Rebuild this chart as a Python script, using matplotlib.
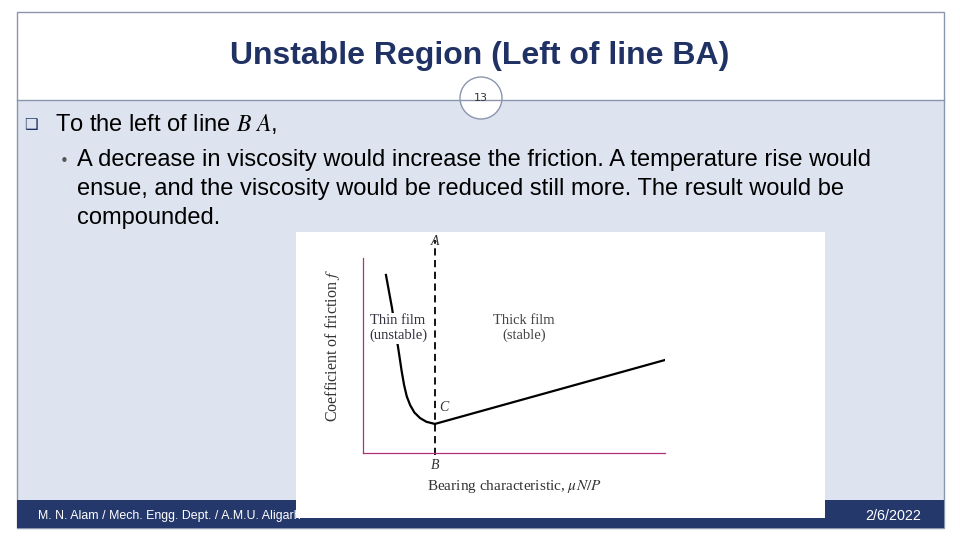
import matplotlib.pyplot as plt
from matplotlib.patches import Rectangle, Circle

plt.rcParams['mathtext.fontset'] = 'stix'
W, H = 960, 540

# curve (bearing characteristic vs coefficient of friction)
thin_x = [0.76, 0.96, 1.19, 1.28, 1.36, 1.45, 1.56, 1.70, 1.89, 2.10, 2.38]
thin_f = [9.13, 7.44, 5.13, 4.20, 3.49, 2.90, 2.46, 2.08, 1.79, 1.60, 1.49]
thick_x = [2.38, 10.0]
thick_f = [1.49, 4.77]
x_ba = 2.38

title = "Unstable Region (Left of line BA)"
bullet1 = "To the left of line $\\mathit{B\\ A}$,"
bullet2 = ("A decrease in viscosity would increase the friction. A temperature rise would\n"
           "ensue, and the viscosity would be reduced still more. The result would be\n"
           "compounded.")
footer_left = "M. N. Alam / Mech. Engg. Dept. / A.M.U. Aligarh"
footer_right = "2/6/2022"


def px(x0, y0, w, h):
    # pixel box (top-left origin) -> figure fraction
    return [x0 / W, 1 - (y0 + h) / H, w / W, h / H]


fig = plt.figure(figsize=(9.6, 5.4), dpi=100)
bg = fig.add_axes([0, 0, 1, 1])
bg.set_xlim(0, W)
bg.set_ylim(H, 0)
bg.axis('off')

bg.add_patch(Rectangle((17, 100), 927, 428, facecolor='#dde3ef', edgecolor='none'))
bg.add_patch(Rectangle((17, 12), 927, 516, facecolor='none', edgecolor='#8a96ad', lw=1))
bg.plot([17, 944], [100, 100], color='#8a96ad', lw=1)
bg.add_patch(Rectangle((17, 500), 927, 28, facecolor='#24386b', edgecolor='none'))
bg.add_patch(Circle((481, 98), 21, facecolor='white', edgecolor='#8a96ad', lw=1))

bg.text(480, 56, title, ha='center', va='center', fontsize=23, fontweight='bold',
        color='#1f3263', family='Liberation Sans')
bg.text(481, 98, "13", ha='center', va='center', fontsize=8, color='#333333',
        family='DejaVu Sans')
bg.text(31, 124, "❑", ha='center', va='center', fontsize=11, color='#1f3263',
        family='DejaVu Sans')
bg.text(55, 124, bullet1, ha='left', va='center', fontsize=17, family='Liberation Sans')
bg.text(60, 162, "•", ha='left', va='center', fontsize=11, color='#555555')
bg.text(77, 149, bullet2, ha='left', va='top', fontsize=17, family='Liberation Sans',
        linespacing=1.4)
bg.text(38, 516, footer_left, ha='left', va='center', fontsize=8.9, color='white',
        family='Liberation Sans')
bg.text(921, 516, footer_right, ha='right', va='center', fontsize=10.4, color='white',
        family='Liberation Sans')

bg.add_patch(Rectangle((296, 232), 529, 286, facecolor='white', edgecolor='none'))

ax = fig.add_axes(px(363, 258, 302, 195))
ax.set_xlim(0, 10)
ax.set_ylim(0, 10)
ax.set_xticks([])
ax.set_yticks([])
for s in ['top', 'right']:
    ax.spines[s].set_visible(False)
for s in ['left', 'bottom']:
    ax.spines[s].set_color('#b0307a')
    ax.spines[s].set_linewidth(0.9)
ax.set_facecolor('white')
ax.plot(thin_x, thin_f, color='black', lw=1.6, zorder=2)
ax.plot(thick_x, thick_f, color='black', lw=1.6)
ax.plot([x_ba, x_ba], [-0.1, 10.9], color='black', lw=1.3, ls=(0, (4, 2.5)), clip_on=False)

serif = 'Liberation Serif'
ax.text(x_ba, 10.5, "A", ha='center', va='bottom', fontsize=10, style='italic', family=serif,
        color='#333333')
ax.text(x_ba, -0.3, "B", ha='center', va='top', fontsize=10, style='italic', family=serif,
        color='#333333')
ax.text(x_ba + 0.15, 2.0, "C", ha='left', va='bottom', fontsize=10, style='italic', family=serif,
        color='#333333')
ax.text(1.16, 6.4, "Thin film\n(unstable)", ha='center', va='center', fontsize=10.5,
        family=serif, color='#333340', linespacing=1.2, zorder=3,
        bbox=dict(facecolor='white', edgecolor='none', pad=1))
ax.text(5.33, 6.4, "Thick film\n(stable)", ha='center', va='center', fontsize=10.5,
        family=serif, color='#444444', linespacing=1.2)
ax.set_xlabel("Bearing characteristic, $\\mu N/P$", fontsize=11, family=serif, labelpad=18,
              color='#333333')
ax.set_ylabel("Coefficient of friction $f$", fontsize=11.5, family=serif, labelpad=10,
              color='#333333')
ax.yaxis.set_label_coords(-0.07, 0.55)

fig.savefig("out.png", dpi=100)
